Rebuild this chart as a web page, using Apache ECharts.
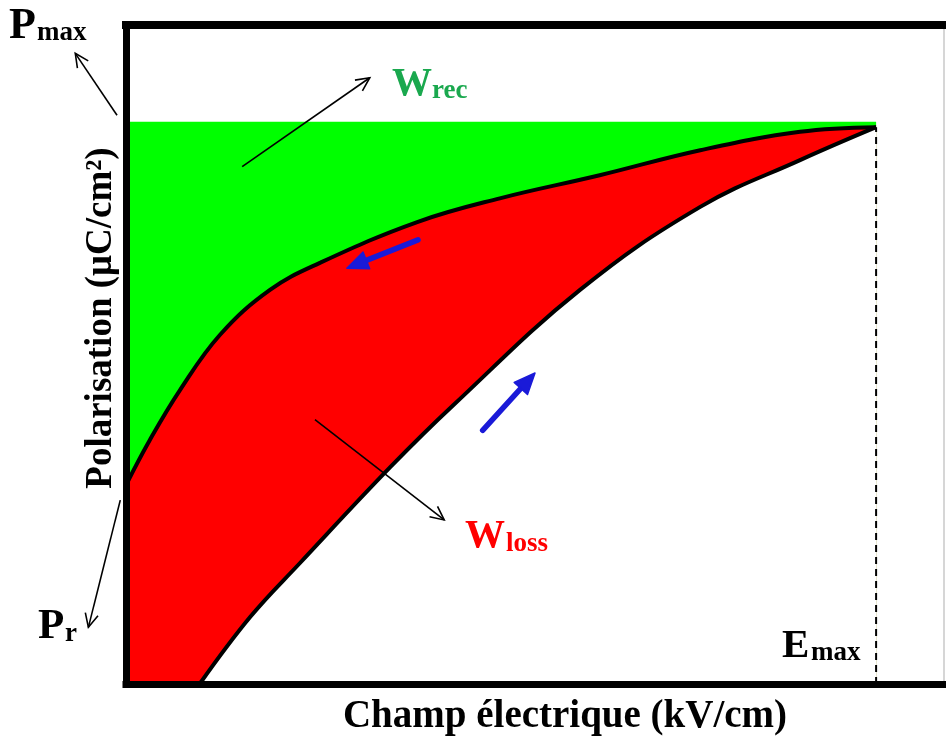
<!DOCTYPE html>
<html>
<head>
<meta charset="utf-8">
<script src="https://cdn.jsdelivr.net/npm/echarts@6/dist/echarts.min.js"></script>
<style>
html,body{margin:0;padding:0;background:#fff;}
#main{width:946px;height:740px;}
</style>
</head>
<body>
<div id="main"></div>
<script>
// ---- data (E in % of axis, P in % of axis) ----
const upperE = [0, 2.9, 6.6, 11.5, 17.6, 23.7, 35.6, 45.7, 57.9, 70.2, 82.4, 91.7];
const upperP = [30.2, 37.0, 44.6, 53.0, 59.8, 63.9, 70.1, 73.7, 77.2, 81.0, 83.8, 84.5];
const lowerE = [9.0, 15.2, 21.3, 32.3, 40.0, 55.5, 70.2, 82.4, 91.7];
const lowerP = [0, 10.2, 18.4, 32.9, 42.3, 59.8, 72.4, 79.5, 84.5];
const Pmax = 85.3;
const Emax = 91.7;
const Ptip = 84.5;
// annotation arrows: [x1, y1, x2, y2]
const blackArrows = [
  [-1.1, 86.3, -6.2, 95.7],
  [-0.7, 27.9, -4.6, 8.6],
  [14.2, 78.5, 29.8, 92.0],
  [23.1, 40.1, 38.9, 24.9]
];
const blueArrows = [
  [35.7, 67.4, 27.0, 63.1],
  [43.6, 38.5, 50.0, 47.2]
];
const xTitle = 'Champ électrique (kV/cm)';
const yTitle = 'Polarisation (μC/cm²)';

const upper = upperE.map((e, i) => [e, upperP[i]]);
const lower = lowerE.map((e, i) => [e, lowerP[i]]);
const SERIF = '"Liberation Serif", "Times New Roman", serif';
const SM = 0.4;

function arrowRender(kind) {
  return function (params, api) {
    const p1 = api.coord([api.value(0), api.value(1)]);
    const p2 = api.coord([api.value(2), api.value(3)]);
    const ang = Math.atan2(p2[1] - p1[1], p2[0] - p1[0]);
    if (kind === 'black') {
      const L = 15, a = 0.45;
      const l = [p2[0] - L * Math.cos(ang - a), p2[1] - L * Math.sin(ang - a)];
      const r = [p2[0] - L * Math.cos(ang + a), p2[1] - L * Math.sin(ang + a)];
      return {
        type: 'group',
        children: [
          { type: 'line', shape: { x1: p1[0], y1: p1[1], x2: p2[0], y2: p2[1] },
            style: { stroke: '#000', lineWidth: 1.6 } },
          { type: 'polyline', shape: { points: [l, p2, r] },
            style: { stroke: '#000', lineWidth: 1.6, fill: null } }
        ]
      };
    } else {
      const L = 21, W = 18;
      const bx = p2[0] - L * Math.cos(ang), by = p2[1] - L * Math.sin(ang);
      const nx = -Math.sin(ang) * W / 2, ny = Math.cos(ang) * W / 2;
      return {
        type: 'group',
        children: [
          { type: 'line', shape: { x1: p1[0], y1: p1[1], x2: bx, y2: by },
            style: { stroke: '#1a1ad8', lineWidth: 5.5, lineCap: 'round' } },
          { type: 'polygon', shape: { points: [[p2[0], p2[1]], [bx + nx, by + ny], [bx - nx, by - ny]] },
            style: { fill: '#1a1ad8', stroke: '#1a1ad8', lineWidth: 1.5, lineJoin: 'round' } }
        ]
      };
    }
  };
}

const chart = echarts.init(document.getElementById('main'), null, { renderer: 'canvas' });
const axisBase = {
  type: 'value', min: 0, max: 100,
  axisTick: { show: false }, axisLabel: { show: false }, splitLine: { show: false },
  z: 10
};
function txt(s, x, y, size, color, extra) {
  return Object.assign({
    type: 'text', x: x, y: y, z: 100,
    style: { text: s, font: 'bold ' + size + 'px ' + SERIF, fill: color, align: 'left', verticalAlign: 'middle' }
  }, extra || {});
}
chart.setOption({
  animation: false,
  backgroundColor: '#fff',
  grid: { left: 126, right: 2, top: 25, bottom: 56 },
  xAxis: [
    Object.assign({}, axisBase, { position: 'bottom', axisLine: { show: true, onZero: false, lineStyle: { color: '#000', width: 7, cap: 'square' } } }),
    Object.assign({}, axisBase, { position: 'top', axisLine: { show: true, onZero: false, lineStyle: { color: '#000', width: 8, cap: 'square' } } })
  ],
  yAxis: [
    Object.assign({}, axisBase, { position: 'left', axisLine: { show: true, onZero: false, lineStyle: { color: '#000', width: 7, cap: 'square' } } }),
    Object.assign({}, axisBase, { position: 'right', axisLine: { show: true, onZero: false, lineStyle: { color: '#c8c8c8', width: 1.5 } } })
  ],
  series: [
    { type: 'line', data: [[0, Pmax], [Emax, Pmax]], symbol: 'none', lineStyle: { opacity: 0 },
      areaStyle: { color: '#00ff00', opacity: 1 }, z: 2 },
    { type: 'line', data: upper, smooth: SM, symbol: 'none', lineStyle: { opacity: 0 },
      areaStyle: { color: '#ff0000', opacity: 1 }, z: 3 },
    { type: 'line', data: lower, smooth: SM, symbol: 'none', lineStyle: { opacity: 0 },
      areaStyle: { color: '#ffffff', opacity: 1 }, z: 4 },
    { type: 'line', data: upper, smooth: SM, symbol: 'none', lineStyle: { color: '#000', width: 4 }, z: 5 },
    { type: 'line', data: lower, smooth: SM, symbol: 'none', lineStyle: { color: '#000', width: 4 }, z: 5 },
    { type: 'line', data: [[Emax, 0], [Emax, Ptip]], symbol: 'none',
      lineStyle: { color: '#000', width: 2, type: [7, 5] }, z: 6 },
    { type: 'custom', renderItem: arrowRender('black'), data: blackArrows, z: 20, clip: false },
    { type: 'custom', renderItem: arrowRender('blue'), data: blueArrows, z: 20, clip: false }
  ],
  graphic: [
    txt('P', 9, 26.5, 44, '#000'),
    txt('max', 37, 33, 27, '#000'),
    txt('W', 392, 84.5, 40, '#1aa84e'),
    txt('rec', 432, 91, 27, '#1aa84e'),
    txt('W', 465, 536.5, 40, '#ff0000'),
    txt('loss', 506, 544, 27, '#ff0000'),
    txt('P', 38, 626.5, 43, '#000'),
    txt('r', 65, 634, 27, '#000'),
    txt('E', 782, 646.5, 41, '#000'),
    txt('max', 811, 653, 27, '#000'),
    { type: 'text', x: 565, y: 716.5, z: 100,
      style: { text: xTitle, font: 'bold 39px ' + SERIF, fill: '#000', align: 'center', verticalAlign: 'middle' } },
    { type: 'text', x: 101, y: 318, z: 100, rotation: Math.PI / 2,
      style: { text: yTitle, font: 'bold 37px ' + SERIF, fill: '#000', align: 'center', verticalAlign: 'middle' } }
  ]
});
</script>
</body>
</html>
